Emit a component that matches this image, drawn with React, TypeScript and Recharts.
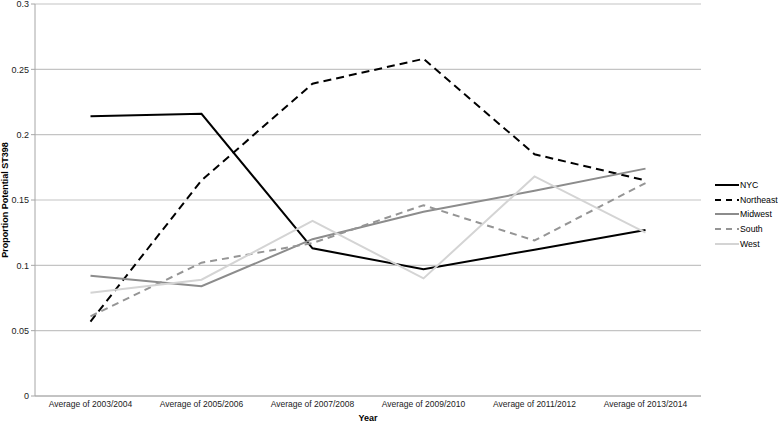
import { LineChart, Line, XAxis, YAxis, CartesianGrid, Legend, Label } from 'recharts';

const years = [
  'Average of 2003/2004',
  'Average of 2005/2006',
  'Average of 2007/2008',
  'Average of 2009/2010',
  'Average of 2011/2012',
  'Average of 2013/2014',
];

const nyc = [0.214, 0.216, 0.113, 0.097, 0.112, 0.127];
const northeast = [0.057, 0.165, 0.239, 0.258, 0.185, 0.165];
const midwest = [0.092, 0.084, 0.12, 0.141, 0.157, 0.174];
const south = [0.061, 0.102, 0.117, 0.146, 0.119, 0.163];
const west = [0.079, 0.089, 0.134, 0.09, 0.168, 0.125];

const yTicks = [0, 0.05, 0.1, 0.15, 0.2, 0.25, 0.3];

const data = years.map((year, i) => ({
  year,
  NYC: nyc[i],
  Northeast: northeast[i],
  Midwest: midwest[i],
  South: south[i],
  West: west[i],
}));

const SERIES = [
  { key: 'NYC', color: '#000000', dash: undefined },
  { key: 'Northeast', color: '#000000', dash: '8 5' },
  { key: 'Midwest', color: '#8c8c8c', dash: undefined },
  { key: 'South', color: '#959595', dash: '7 5' },
  { key: 'West', color: '#d4d4d4', dash: undefined },
];

const FONT = 'Liberation Sans, Arial, sans-serif';

// legend drawn by hand so it sits where Excel put it
const LegendBox = () => (
  <div style={{ fontFamily: FONT, fontSize: 8.7, color: '#000' }}>
    {SERIES.map((s) => (
      <div key={s.key} style={{ display: 'flex', alignItems: 'center', height: 14.6 }}>
        <svg width={24} height={6}>
          <line x1={0} y1={3} x2={24} y2={3} stroke={s.color} strokeWidth={2} strokeDasharray={s.dash ? '6 5' : undefined} />
        </svg>
        <span style={{ marginLeft: 1 }}>{s.key}</span>
      </div>
    ))}
  </div>
);

const YLabel = () => (
  <text
    x={5}
    y={200}
    transform="rotate(-90 5 200)"
    textAnchor="middle"
    dominantBaseline="central"
    fontFamily={FONT}
    fontSize={9}
    fontWeight="bold"
    fill="#000"
  >
    Proportion Potential ST398
  </text>
);

export default function App() {
  return (
    <div style={{ position: 'absolute', left: 0, top: 0, background: '#fff' }}>
      <style>{'body{margin:0}'}</style>
      <LineChart width={778} height={423} data={data} margin={{ top: 4, right: 77, bottom: 0, left: 0 }}>
        <CartesianGrid vertical={false} stroke="#c4c4c4" strokeWidth={1.2} />
        <XAxis
          dataKey="year"
          height={27}
          padding={{ left: 55.5, right: 55.5 }}
          tickLine={false}
          tickSize={0}
          tickMargin={5}
          axisLine={{ stroke: '#a6a6a6' }}
          tick={{ fontFamily: FONT, fontSize: 8.5, fill: '#222' }}
          interval={0}
        >
          <Label value="Year" position="insideBottom" offset={2} style={{ fontFamily: FONT, fontSize: 9, fontWeight: 'bold', fill: '#000' }} />
        </XAxis>
        <YAxis
          width={35}
          domain={[0, 0.3]}
          ticks={yTicks}
          interval={0}
          tickSize={4}
          tickMargin={2}
          axisLine={{ stroke: '#a6a6a6' }}
          tickLine={{ stroke: '#a6a6a6' }}
          tick={{ fontFamily: FONT, fontSize: 9, fill: '#222' }}
          label={<YLabel />}
        />
        <Legend
          layout="vertical"
          align="center"
          verticalAlign="middle"
          content={<LegendBox />}
          wrapperStyle={{ left: 715, top: 178, width: 63 }}
        />
        {SERIES.map((s) => (
          <Line
            key={s.key}
            type="linear"
            dataKey={s.key}
            stroke={s.color}
            strokeWidth={2}
            strokeDasharray={s.dash}
            dot={false}
            activeDot={false}
            isAnimationActive={false}
          />
        ))}
      </LineChart>
    </div>
  );
}
